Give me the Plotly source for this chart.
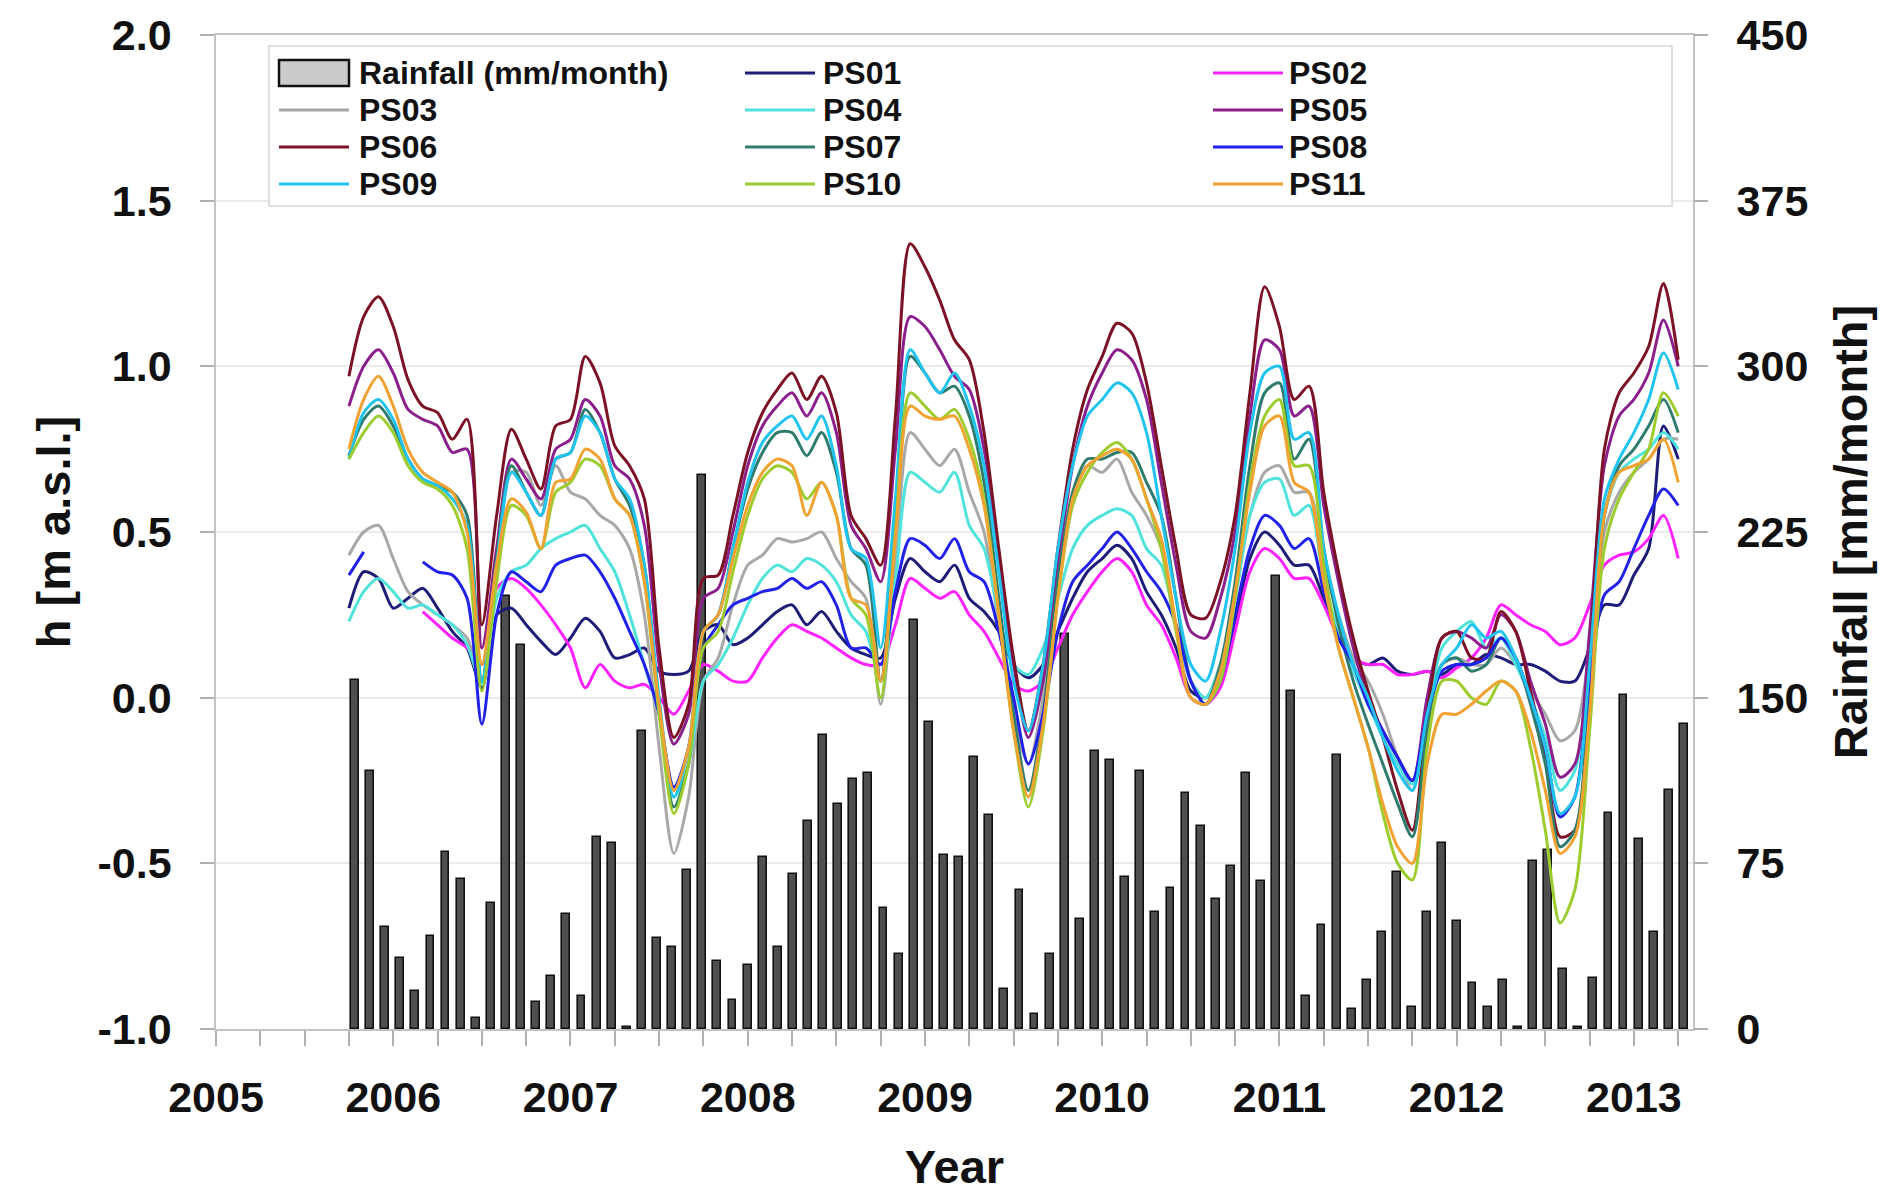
import pandas as pd
import plotly.graph_objects as go

# ---------------------------------------------------------------------------
# Data
# ---------------------------------------------------------------------------
# Monthly piezometric levels, Oct 2005 .. Apr 2013 (91 months)
months = pd.date_range("2005-10-01", periods=91, freq="MS")
t_years = list(months.year + (months.month - 1) / 12.0)

PS01 = [0.27, 0.38, 0.36, 0.27, 0.30, 0.33, 0.27, 0.20, 0.15, 0.03, 0.25, 0.27,
        0.22, 0.17, 0.13, 0.18, 0.24, 0.20, 0.12, 0.13, 0.15, 0.08, 0.07, 0.08,
        0.20, 0.22, 0.16, 0.18, 0.22, 0.26, 0.28, 0.22, 0.26, 0.20, 0.15, 0.13,
        0.12, 0.30, 0.42, 0.38, 0.35, 0.40, 0.30, 0.26, 0.20, 0.10, 0.06, 0.10, 0.20, 0.30,
        0.38, 0.42, 0.46, 0.42, 0.32, 0.25, 0.15, 0.02, 0.00, 0.05,
        0.22, 0.42, 0.50, 0.46, 0.40, 0.40, 0.30, 0.20, 0.12, 0.10, 0.12, 0.08,
        0.07, 0.08, 0.07, 0.10, 0.10, 0.13, 0.12, 0.10, 0.10, 0.08, 0.05, 0.05,
        0.15, 0.28, 0.28, 0.37, 0.45, 0.82, 0.72]

PS02 = [None, None, None, None, None, 0.26, 0.22, 0.18, 0.15, 0.10, 0.33, 0.36,
        0.33, 0.28, 0.22, 0.15, 0.03, 0.10, 0.05, 0.03, 0.04, 0.00, -0.05, 0.02,
        0.10, 0.08, 0.05, 0.05, 0.12, 0.18, 0.22, 0.20, 0.18, 0.15, 0.12, 0.10,
        0.10, 0.22, 0.36, 0.33, 0.30, 0.32, 0.25, 0.20, 0.12, 0.04, 0.02, 0.05, 0.15, 0.25,
        0.32, 0.38, 0.42, 0.38, 0.28, 0.22, 0.12, 0.00, -0.02, 0.03,
        0.20, 0.38, 0.45, 0.42, 0.36, 0.36, 0.28, 0.18, 0.12, 0.10, 0.10, 0.07,
        0.07, 0.08, 0.06, 0.09, 0.12, 0.18, 0.28, 0.25, 0.22, 0.20, 0.16, 0.18,
        0.28, 0.40, 0.43, 0.44, 0.48, 0.55, 0.42]

PS03 = [0.43, 0.50, 0.52, 0.42, 0.32, 0.28, 0.25, 0.22, 0.18, 0.05, 0.35, 0.68,
        0.68, 0.58, 0.70, 0.62, 0.60, 0.55, 0.52, 0.45, 0.25, -0.15, -0.47, -0.30,
        0.05, 0.12, 0.28, 0.40, 0.43, 0.48, 0.47, 0.48, 0.50, 0.42, 0.35, 0.30,
        -0.02, 0.40, 0.80, 0.75, 0.70, 0.75, 0.62, 0.50, 0.22, -0.05, -0.20, 0.00, 0.35, 0.60,
        0.70, 0.68, 0.72, 0.62, 0.55, 0.45, 0.22, 0.05, 0.00, 0.10,
        0.30, 0.55, 0.68, 0.70, 0.62, 0.62, 0.40, 0.25, 0.12, 0.05, -0.05, -0.18,
        -0.28, -0.05, 0.10, 0.12, 0.10, 0.10, 0.15, 0.10, 0.02, -0.05, -0.13, -0.10,
        0.15, 0.50, 0.62, 0.68, 0.72, 0.78, 0.78]

PS04 = [0.23, 0.32, 0.36, 0.32, 0.27, 0.28, 0.25, 0.22, 0.16, 0.04, 0.30, 0.38,
        0.40, 0.45, 0.48, 0.50, 0.52, 0.45, 0.38, 0.25, 0.10, -0.05, -0.30, -0.20,
        0.05, 0.10, 0.18, 0.28, 0.36, 0.40, 0.38, 0.42, 0.40, 0.35, 0.25, 0.20,
        0.05, 0.35, 0.68, 0.65, 0.62, 0.68, 0.52, 0.45, 0.25, 0.10, 0.07, 0.15, 0.30, 0.45,
        0.52, 0.55, 0.57, 0.55, 0.45, 0.40, 0.22, 0.05, 0.00, 0.10,
        0.30, 0.55, 0.65, 0.66, 0.55, 0.58, 0.35, 0.20, 0.08, -0.02, -0.12, -0.20,
        -0.26, -0.05, 0.15, 0.20, 0.23, 0.15, 0.18, 0.10, 0.00, -0.12, -0.28, -0.22,
        0.10, 0.55, 0.68, 0.72, 0.75, 0.80, 0.75]

PS05 = [0.88, 1.00, 1.05, 0.98, 0.87, 0.84, 0.82, 0.74, 0.75, 0.15, 0.45, 0.72,
        0.66, 0.60, 0.75, 0.78, 0.90, 0.85, 0.70, 0.66, 0.52, 0.10, -0.14, -0.05,
        0.30, 0.33, 0.50, 0.70, 0.82, 0.88, 0.92, 0.85, 0.92, 0.80, 0.52, 0.45,
        0.35, 0.75, 1.15, 1.12, 1.05, 0.97, 0.93, 0.75, 0.42, 0.10, -0.12, 0.05, 0.40, 0.70,
        0.88, 0.98, 1.05, 1.02, 0.90, 0.65, 0.40, 0.20, 0.18, 0.30,
        0.50, 0.85, 1.08, 1.05, 0.85, 0.88, 0.58, 0.35, 0.15, 0.00, -0.10, -0.18,
        -0.25, 0.00, 0.18, 0.20, 0.18, 0.15, 0.25, 0.20, 0.05, -0.08, -0.24, -0.20,
        0.20, 0.70, 0.85, 0.90, 0.98, 1.14, 1.00]

PS06 = [0.97, 1.15, 1.21, 1.12, 0.96, 0.88, 0.86, 0.78, 0.84, 0.22, 0.55, 0.81,
        0.72, 0.63, 0.82, 0.84, 1.03, 0.95, 0.76, 0.70, 0.60, 0.15, -0.12, -0.02,
        0.36, 0.37, 0.55, 0.74, 0.86, 0.93, 0.98, 0.90, 0.97, 0.86, 0.55, 0.48,
        0.40, 0.85, 1.37, 1.30, 1.20, 1.08, 1.02, 0.80, 0.45, 0.12, -0.10, 0.10, 0.45, 0.75,
        0.93, 1.03, 1.13, 1.10, 0.95, 0.70, 0.45, 0.25, 0.24, 0.35,
        0.55, 0.92, 1.24, 1.12, 0.90, 0.94, 0.62, 0.38, 0.18, 0.02, -0.12, -0.28,
        -0.40, -0.05, 0.18, 0.20, 0.12, 0.12, 0.26, 0.20, 0.02, -0.18, -0.42, -0.40,
        0.10, 0.75, 0.92, 0.98, 1.06, 1.25, 1.02]

PS07 = [0.73, 0.84, 0.88, 0.82, 0.72, 0.66, 0.64, 0.62, 0.55, 0.05, 0.42, 0.70,
        0.62, 0.55, 0.72, 0.74, 0.87, 0.80, 0.66, 0.58, 0.40, -0.02, -0.33, -0.20,
        0.20, 0.25, 0.45, 0.63, 0.74, 0.80, 0.80, 0.73, 0.80, 0.68, 0.45, 0.40,
        0.05, 0.55, 1.03, 0.98, 0.92, 0.94, 0.85, 0.65, 0.30, -0.05, -0.28, -0.05, 0.35, 0.62,
        0.72, 0.72, 0.74, 0.74, 0.65, 0.55, 0.30, 0.05, -0.02, 0.10,
        0.35, 0.70, 0.92, 0.95, 0.72, 0.78, 0.45, 0.22, 0.05, -0.08, -0.20, -0.32,
        -0.42, -0.10, 0.10, 0.12, 0.08, 0.10, 0.18, 0.12, -0.02, -0.20, -0.45, -0.40,
        0.00, 0.55, 0.70, 0.75, 0.82, 0.90, 0.80]

PS08 = [0.37, 0.44, None, None, None, 0.41, 0.38, 0.37, 0.30, -0.08, 0.25, 0.38,
        0.35, 0.32, 0.40, 0.42, 0.43, 0.38, 0.30, 0.20, 0.10, -0.05, -0.27, -0.15,
        0.15, 0.22, 0.28, 0.30, 0.32, 0.33, 0.36, 0.33, 0.35, 0.28, 0.15, 0.15,
        0.10, 0.32, 0.48, 0.46, 0.42, 0.48, 0.38, 0.35, 0.20, 0.00, -0.20, -0.05, 0.20, 0.35,
        0.40, 0.45, 0.50, 0.45, 0.38, 0.32, 0.22, 0.05, -0.02, 0.05,
        0.25, 0.45, 0.55, 0.52, 0.45, 0.48, 0.32, 0.18, 0.10, -0.02, -0.10, -0.18,
        -0.25, -0.05, 0.08, 0.10, 0.10, 0.12, 0.18, 0.12, 0.00, -0.15, -0.36, -0.30,
        0.05, 0.31, 0.35, 0.45, 0.55, 0.63, 0.58]

PS09 = [0.72, 0.86, 0.90, 0.84, 0.72, 0.66, 0.64, 0.60, 0.52, 0.05, 0.40, 0.68,
        0.62, 0.55, 0.72, 0.74, 0.85, 0.80, 0.66, 0.60, 0.40, 0.00, -0.30, -0.15,
        0.20, 0.25, 0.45, 0.65, 0.77, 0.82, 0.85, 0.78, 0.85, 0.70, 0.45, 0.42,
        0.15, 0.60, 1.05, 0.98, 0.92, 0.98, 0.88, 0.70, 0.38, 0.05, -0.10, 0.10, 0.45, 0.70,
        0.85, 0.90, 0.95, 0.92, 0.80, 0.55, 0.30, 0.10, 0.05, 0.20,
        0.45, 0.80, 0.98, 1.00, 0.78, 0.80, 0.45, 0.25, 0.10, 0.00, -0.12, -0.22,
        -0.28, -0.05, 0.10, 0.15, 0.22, 0.18, 0.20, 0.12, 0.00, -0.15, -0.35, -0.30,
        0.10, 0.60, 0.72, 0.80, 0.90, 1.04, 0.93]

PS10 = [0.72, 0.80, 0.85, 0.80, 0.70, 0.65, 0.63, 0.58, 0.45, 0.02, 0.35, 0.58,
        0.55, 0.45, 0.62, 0.65, 0.72, 0.70, 0.60, 0.55, 0.35, -0.05, -0.35, -0.20,
        0.15, 0.20, 0.38, 0.55, 0.66, 0.70, 0.68, 0.60, 0.65, 0.55, 0.30, 0.25,
        0.00, 0.50, 0.92, 0.88, 0.84, 0.87, 0.78, 0.60, 0.25, -0.10, -0.33, -0.10, 0.30, 0.58,
        0.68, 0.74, 0.77, 0.72, 0.60, 0.45, 0.20, 0.00, -0.02, 0.05,
        0.30, 0.65, 0.85, 0.90, 0.70, 0.70, 0.40, 0.15, 0.00, -0.15, -0.35, -0.50,
        -0.55, -0.15, 0.05, 0.05, 0.00, -0.02, 0.05, 0.02, -0.15, -0.40, -0.68, -0.58,
        -0.10, 0.45, 0.60, 0.68, 0.75, 0.92, 0.85]

PS11 = [0.75, 0.90, 0.97, 0.88, 0.75, 0.68, 0.65, 0.62, 0.50, 0.10, 0.40, 0.60,
        0.56, 0.45, 0.65, 0.66, 0.75, 0.72, 0.60, 0.55, 0.35, -0.02, -0.28, -0.15,
        0.20, 0.25, 0.42, 0.58, 0.68, 0.72, 0.70, 0.55, 0.65, 0.55, 0.30, 0.28,
        0.05, 0.48, 0.88, 0.85, 0.84, 0.85, 0.75, 0.58, 0.25, -0.10, -0.30, -0.08, 0.30, 0.60,
        0.70, 0.73, 0.75, 0.72, 0.60, 0.48, 0.22, 0.00, -0.02, 0.08,
        0.32, 0.62, 0.82, 0.85, 0.65, 0.62, 0.35, 0.15, 0.00, -0.15, -0.32, -0.45,
        -0.50, -0.20, -0.05, -0.05, -0.02, 0.02, 0.05, 0.02, -0.10, -0.28, -0.47, -0.42,
        -0.05, 0.55, 0.68, 0.70, 0.72, 0.78, 0.65]

# Monthly rainfall (mm/month), one bar per month
rainfall = [158, 117, 46, 32, 17, 42, 80, 68, 5, 57, 196, 174, 12, 24, 52, 15, 87, 84,
            1, 135, 41, 37, 72, 251, 31, 13, 29, 78, 37, 70, 94, 133, 102, 113, 116, 55, 34,
            185, 139, 79, 78, 123, 97, 18, 63, 7, 34, 179, 50, 126, 122, 69, 117, 53, 64,
            107, 92, 59, 74, 116, 67, 205, 153, 15, 47, 124, 9, 22, 44, 71, 10, 53, 84, 49,
            21, 10, 22, 1, 76, 81, 27, 1, 23, 98, 151, 86, 44, 108, 138]
bar_index = list(range(len(rainfall)))

series_names = ["PS01", "PS02", "PS03", "PS04", "PS05", "PS06",
                "PS07", "PS08", "PS09", "PS10", "PS11"]
series_values = [PS01, PS02, PS03, PS04, PS05, PS06, PS07, PS08, PS09, PS10, PS11]
series_colors = ["#1d1d78", "#ff22ff", "#a8a8a8", "#4fe3dc", "#8b1f8b", "#7c1226",
                 "#2f7c6e", "#2121e8", "#20c4ee", "#9ccc2e", "#f0a232"]

year_ticks = list(range(2005, 2014))
h_ticks = [-1.0, -0.5, 0.0, 0.5, 1.0, 1.5, 2.0]
h_tick_text = ["-1.0", "-0.5", "0.0", "0.5", "1.0", "1.5", "2.0"]
rain_ticks = [0, 75, 150, 225, 300, 375, 450]

# ---------------------------------------------------------------------------
# Page geometry (pixels)
# ---------------------------------------------------------------------------
W, H = 1902, 1199
PX_L, PX_R, PX_T, PX_B = 216, 1693, 35, 1029
FONT = "Liberation Sans, Arial, Helvetica, sans-serif"
AXIS_GREY = "#c2c2c2"
TICK_GREY = "#b0b0b0"


def paper_x(px):
    return (px - PX_L) / (PX_R - PX_L)


def paper_y(py):
    return (PX_B - py) / (PX_B - PX_T)


fig = go.Figure()

# Rainfall bars on the base subplot (drawn underneath the level curves)
fig.add_trace(go.Bar(
    x=bar_index, y=rainfall, xaxis="x", yaxis="y",
    width=0.52,
    marker=dict(color="#4f4f4f", line=dict(color="#111111", width=1.6)),
    name="Rainfall (mm/month)", showlegend=False,
))

# Level curves on the overlaid subplot
for name, vals, col in zip(series_names, series_values, series_colors):
    fig.add_trace(go.Scatter(
        x=t_years, y=vals, xaxis="x2", yaxis="y2", mode="lines", name=name,
        line=dict(color=col, width=3, shape="spline", smoothing=0.8),
        connectgaps=False, showlegend=False,
    ))

tick_font = dict(family=FONT, size=43, color="#111111", weight="bold")
title_font = dict(family=FONT, size=47, color="#111111", weight="bold")

fig.update_layout(
    width=W, height=H,
    margin=dict(l=PX_L, r=W - PX_R, t=PX_T, b=H - PX_B, autoexpand=False),
    paper_bgcolor="white", plot_bgcolor="white",
    showlegend=False,
    bargap=0,
    xaxis=dict(range=[-9.2, 88.6], visible=False, fixedrange=True),
    yaxis=dict(
        side="right", range=[0, 450], tickvals=rain_ticks,
        ticks="outside", ticklen=14, tickwidth=1.5, tickcolor=TICK_GREY,
        tickfont=tick_font, ticklabelstandoff=20,
        showgrid=False, zeroline=False, showline=False,
        title=dict(text="Rainfall [mm/month]", font=title_font, standoff=26),
        automargin=False,
    ),
    xaxis2=dict(
        overlaying="x", anchor="y2", side="bottom",
        range=[2005, 2013 + 1 / 3], tickvals=year_ticks,
        ticks="outside", ticklen=15, tickwidth=1.5, tickcolor=TICK_GREY,
        minor=dict(dtick=0.25, ticks="outside", ticklen=15, tickwidth=1.5,
                   tickcolor=TICK_GREY, showgrid=False),
        tickfont=tick_font, ticklabelstandoff=15,
        showgrid=False, zeroline=False,
        showline=True, linecolor=AXIS_GREY, linewidth=1.5, mirror=True,
        title=dict(text="Year", font=title_font, standoff=30),
        automargin=False,
    ),
    yaxis2=dict(
        overlaying="y", anchor="x2", side="left",
        range=[-1, 2], tickvals=h_ticks, ticktext=h_tick_text,
        ticks="outside", ticklen=14, tickwidth=1.5, tickcolor=TICK_GREY,
        tickfont=tick_font, ticklabelstandoff=20,
        showgrid=True, gridcolor="#ebebeb", gridwidth=1.5, zeroline=False,
        showline=True, linecolor=AXIS_GREY, linewidth=1.5, mirror=True,
        title=dict(text="h [m a.s.l.]", font=title_font, standoff=12),
        automargin=False,
    ),
)

# ---------------------------------------------------------------------------
# Legend panel: three columns, four rows
# ---------------------------------------------------------------------------
legend_labels = ["Rainfall (mm/month)"] + series_names
legend_colors = [None] + series_colors
col_swatch_x = [279, 745, 1213]
swatch_len = 70
col_text_x = [357, 821, 1287]
row_y = [73, 110, 147, 184]

shapes = [dict(type="rect", xref="paper", yref="paper",
               x0=paper_x(269), x1=paper_x(1672), y0=paper_y(206), y1=paper_y(46),
               fillcolor="white", line=dict(color="#d6d6d6", width=1.5), layer="above")]
annotations = []
for i, (label, col) in enumerate(zip(legend_labels, legend_colors)):
    r, c = divmod(i, 3)
    sx0 = col_swatch_x[c]
    sy = row_y[r]
    if col is None:
        shapes.append(dict(type="rect", xref="paper", yref="paper",
                           x0=paper_x(sx0), x1=paper_x(sx0 + swatch_len),
                           y0=paper_y(sy + 13), y1=paper_y(sy - 13),
                           fillcolor="#cbcbcb", line=dict(color="#111111", width=2.5),
                           layer="above"))
    else:
        shapes.append(dict(type="line", xref="paper", yref="paper",
                           x0=paper_x(sx0), x1=paper_x(sx0 + swatch_len),
                           y0=paper_y(sy), y1=paper_y(sy),
                           line=dict(color=col, width=3), layer="above"))
    annotations.append(dict(
        text=label, xref="paper", yref="paper",
        x=paper_x(col_text_x[c]), y=paper_y(sy),
        xanchor="left", yanchor="middle", showarrow=False,
        font=dict(family=FONT, size=32, color="#111111", weight="bold"),
    ))

fig.update_layout(shapes=shapes, annotations=annotations)

fig.write_html("out.html")
